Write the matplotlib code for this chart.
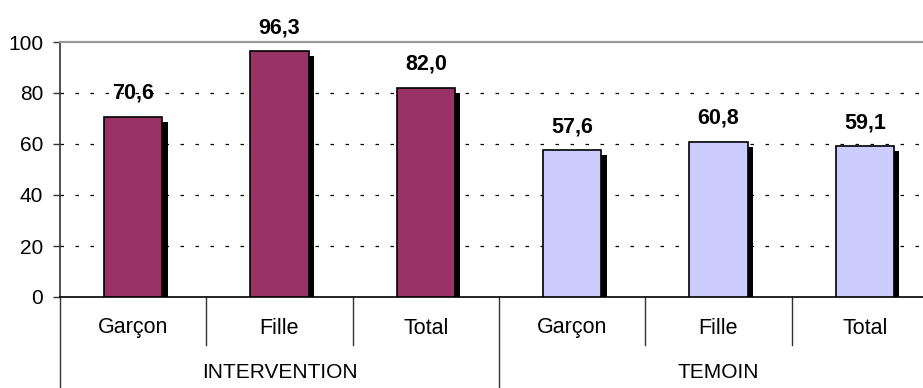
import matplotlib.pyplot as plt
import matplotlib.patheffects as pe
import numpy as np

plt.rcParams['font.family'] = ['Liberation Sans', 'DejaVu Sans']
plt.rcParams['lines.scale_dashes'] = False

# Data
sub_labels = ["Garçon", "Fille", "Total", "Garçon", "Fille", "Total"]
groups = ["INTERVENTION", "TEMOIN"]
values = [70.6, 96.3, 82.0, 57.6, 60.8, 59.1]
group_of_bar = [0, 0, 0, 1, 1, 1]
group_colors = ["#993366", "#CCCCFF"]

W, H = 923, 388
fig = plt.figure(figsize=(W / 100, H / 100), dpi=100)
# axes extends slightly beyond the right image edge, like the original
ax = fig.add_axes([60 / W, (H - 297) / H, 878 / W, 255 / H])

x = np.arange(len(values)) + 0.5
colors = [group_colors[g] for g in group_of_bar]
bars = ax.bar(x, values, width=0.4, color=colors, edgecolor="black", linewidth=1.2, zorder=3)
for b in bars:
    b.set_path_effects([pe.SimplePatchShadow(offset=(3.8, -3.5), shadow_rgbFace="black", alpha=1.0),
                        pe.Normal()])

# value labels
for xi, v in zip(x, values):
    ax.annotate(f"{v:.1f}".replace(".", ","), (xi, v), xytext=(0, 17), textcoords="offset points",
                ha="center", va="center", fontsize=15.5, fontweight="bold", annotation_clip=False)

ax.set_xlim(0, 6)
ax.set_ylim(0, 100)
ax.set_yticks([0, 20, 40, 60, 80, 100])
ax.tick_params(axis="y", labelsize=15, length=5, width=1, pad=7, color="#333333")
ax.set_xticks([])
for yv in [20, 40, 60, 80]:
    ax.axhline(yv, color="black", lw=0.9, ls=(0, (2.5, 8.3)), zorder=1)

ax.spines["right"].set_visible(False)
ax.spines["top"].set_color("#999999")
ax.spines["top"].set_linewidth(1.6)
ax.spines["left"].set_color("#333333")
ax.spines["left"].set_linewidth(1.2)
ax.spines["bottom"].set_color("black")
ax.spines["bottom"].set_linewidth(1.2)

# category table under the axis
trans = ax.get_xaxis_transform()
row1 = -48 / 255
row2 = -91 / 255
line_kw = dict(color="#333333", lw=1, transform=trans, clip_on=False)
for i in range(len(sub_labels) + 1):
    bottom = row2 if i % 3 == 0 else row1
    ax.plot([i, i], [0, bottom], **line_kw)
for xi, lab in zip(x, sub_labels):
    ax.text(xi, -31 / 255, lab, transform=trans, ha="center", va="center", fontsize=15.5)
for gi, g in enumerate(groups):
    ax.text(gi * 3 + 1.5, -75 / 255, g, transform=trans, ha="center", va="center", fontsize=15)

fig.savefig("out.png", dpi=100)
